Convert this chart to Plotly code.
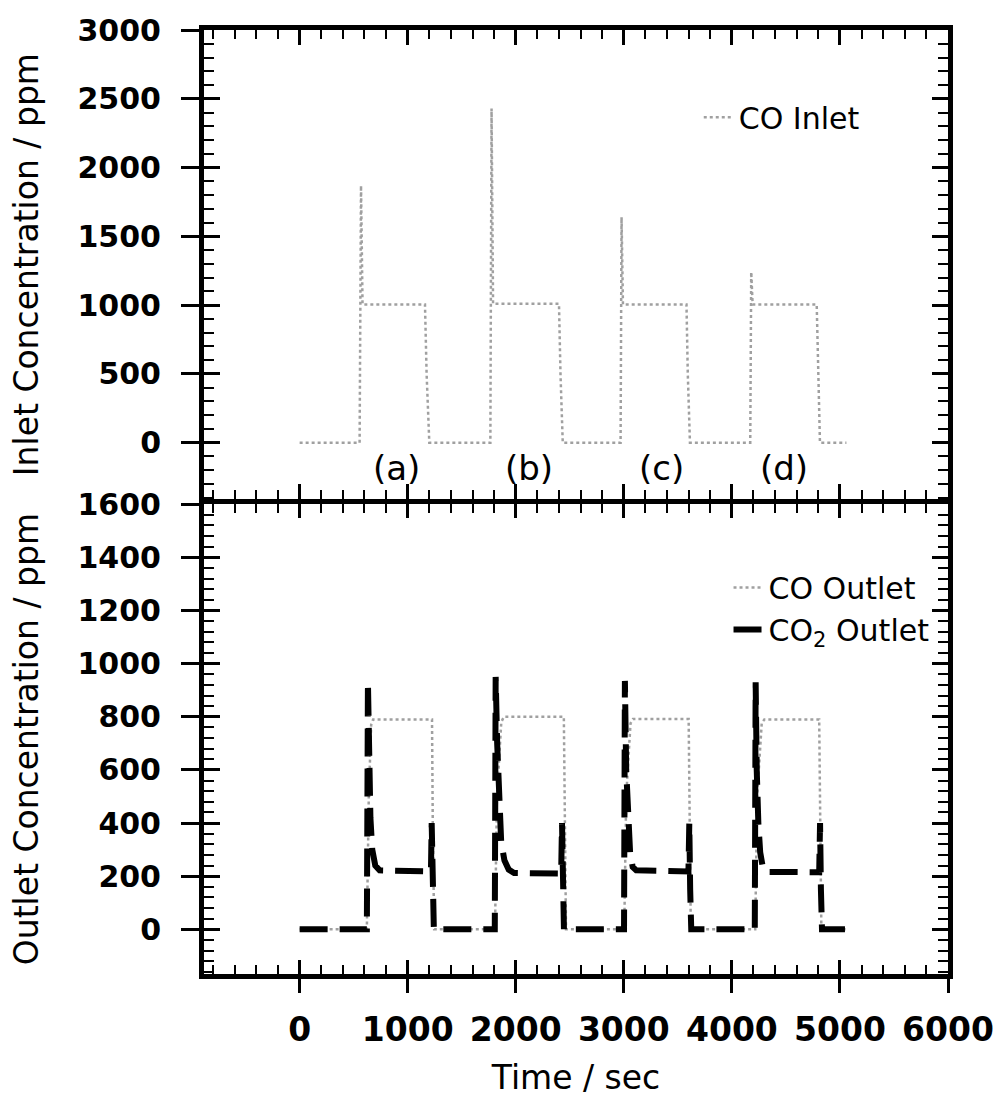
import plotly.graph_objects as go

# ---------------- data ----------------
# Upper panel: CO inlet concentration (ppm) vs time (s)
inlet_time = [0, 555, 568, 582, 1160, 1175, 1200,
              1765, 1776, 1790, 2400, 2414, 2435,
              2970, 2979, 2992, 3580, 3592, 3612,
              4170, 4179, 4192, 4785, 4797, 4815, 5060]
inlet_co = [0, 0, 1870, 1005, 1005, 500, 0,
            0, 2430, 1010, 1010, 500, 0,
            0, 1640, 1005, 1005, 500, 0,
            0, 1240, 1005, 1005, 500, 0, 0]

# Lower panel: CO outlet concentration (ppm) vs time (s)
co_out_time = [0, 622, 640, 662, 680, 1225, 1232, 1245,
               1808, 1826, 1866, 1890, 2445, 2452, 2465,
               3004, 3022, 3062, 3085, 3600, 3607, 3620,
               4216, 4234, 4276, 4300, 4808, 4815, 4828, 5060]
co_out = [0, 0, 500, 770, 790, 790, 400, 0,
          0, 500, 780, 800, 800, 400, 0,
          0, 500, 775, 792, 792, 400, 0,
          0, 500, 775, 790, 790, 400, 0, 0]

# Lower panel: CO2 outlet concentration (ppm) vs time (s)
co2_out_time = [0, 622, 632, 642, 655, 672, 700, 740, 1215, 1222, 1230, 1242,
                1806, 1814, 1828, 1845, 1865, 1895, 1935, 1985, 2420, 2428, 2436, 2446,
                3002, 3010, 3022, 3038, 3058, 3082, 3115, 3598, 3606, 3614, 3624,
                4212, 4220, 4230, 4245, 4262, 4287, 4320, 4808, 4816, 4824, 4834, 5060]
co2_out = [0, 0, 930, 620, 420, 300, 240, 222, 218, 400, 150, 0,
           0, 950, 700, 460, 330, 260, 225, 212, 210, 400, 150, 0,
           0, 935, 600, 400, 290, 235, 222, 218, 400, 150, 0,
           0, 930, 600, 400, 290, 232, 216, 215, 400, 150, 0, 0]

# Experiment labels in the upper panel
cycle_labels = ["(a)", "(b)", "(c)", "(d)"]
cycle_label_time = [893, 2120, 3350, 4480]
cycle_label_level = [-185, -185, -185, -185]

# Axis ranges
time_range = [-885, 6000]
inlet_range = [-411, 3000]
outlet_range = [-168, 1600]

# ---------------- styling ----------------
FONT = "DejaVu Sans"
tick_font = dict(family=FONT, size=30, color="black", weight="bold")
xtick_font = dict(family=FONT, size=33, color="black", weight="bold")
title_font = dict(family=FONT, size=33, color="black")

fig = go.Figure()

fig.add_trace(go.Scatter(
    x=inlet_time, y=inlet_co, mode="lines", name="CO Inlet",
    line=dict(color="#a0a0a0", width=2.5, dash="dot"),
    xaxis="x", yaxis="y", legend="legend"))

fig.add_trace(go.Scatter(
    x=co_out_time, y=co_out, mode="lines", name="CO Outlet",
    line=dict(color="#a0a0a0", width=2.5, dash="dot"),
    xaxis="x2", yaxis="y2", legend="legend2"))

fig.add_trace(go.Scatter(
    x=co2_out_time, y=co2_out, mode="lines", name="CO<sub>2</sub> Outlet",
    line=dict(color="black", width=6, dash="28px,12px"),
    xaxis="x2", yaxis="y2", legend="legend2"))

# empty traces so the overlay axes (outer ticks + labels) get drawn
for xa, ya in [("x", "y3"), ("x2", "y4"), ("x3", "y2")]:
    fig.add_trace(go.Scatter(x=[], y=[], mode="lines", showlegend=False,
                             hoverinfo="skip", xaxis=xa, yaxis=ya))

annotations = []
for lab, t, v in zip(cycle_labels, cycle_label_time, cycle_label_level):
    annotations.append(dict(x=t, y=v, xref="x", yref="y", text=lab,
                            showarrow=False,
                            font=dict(family=FONT, size=34, color="black")))

base = dict(showline=True, linewidth=5, linecolor="black", showgrid=False,
            zeroline=False, tickcolor="black", tickwidth=3, automargin=False)


def minor_in(d, l):
    return dict(dtick=d, ticks="inside", ticklen=l, tickwidth=2,
                tickcolor="black", showgrid=False)


H = 944.0
upper_bottom = (974 - 499.2) / H
lower_top = (974 - 504.2) / H

layout = dict(
    width=1000, height=1103,
    margin=dict(l=204, r=52, t=30, b=129, autoexpand=False),
    paper_bgcolor="white", plot_bgcolor="white",
    showlegend=True,
    annotations=annotations,
    # upper panel axes
    xaxis=dict(base, domain=[0, 1], anchor="y", range=time_range,
               tick0=0, dtick=1000, ticks="inside", ticklen=15,
               minor=minor_in(200, 9), mirror="ticks", showticklabels=False),
    yaxis=dict(base, domain=[upper_bottom, 1], anchor="x", range=inlet_range,
               tick0=0, dtick=500, ticks="inside", ticklen=16,
               minor=minor_in(100, 10), mirror="ticks", showticklabels=False),
    yaxis3=dict(base, overlaying="y", anchor="x", side="left",
                range=inlet_range, tick0=0, dtick=500, ticks="outside",
                ticklen=18, tickfont=tick_font, ticklabelstandoff=14,
                title=dict(text="Inlet Concentration / ppm", font=title_font,
                           standoff=30)),
    # lower panel axes
    xaxis2=dict(base, domain=[0, 1], anchor="y2", range=time_range,
                tick0=0, dtick=1000, ticks="inside", ticklen=14,
                minor=minor_in(200, 9), mirror="ticks", showticklabels=False),
    xaxis3=dict(base, overlaying="x2", anchor="y2", side="bottom",
                range=time_range, tick0=0, dtick=1000, ticks="outside",
                ticklen=14, tickfont=xtick_font, ticklabelstandoff=8,
                title=dict(text="Time / sec", font=title_font, standoff=20)),
    yaxis2=dict(base, domain=[0, lower_top], anchor="x2", range=outlet_range,
                tick0=0, dtick=200, ticks="inside", ticklen=16,
                minor=minor_in(40, 10), mirror="ticks", showticklabels=False),
    yaxis4=dict(base, overlaying="y2", anchor="x2", side="left",
                range=outlet_range, tick0=0, dtick=200, ticks="outside",
                ticklen=18, tickfont=tick_font, ticklabelstandoff=14,
                title=dict(text="Outlet Concentration / ppm", font=title_font,
                           standoff=30)),
    legend=dict(x=0.665, y=0.935, xanchor="left", yanchor="top",
                bgcolor="rgba(0,0,0,0)", borderwidth=0,
                font=dict(family=FONT, size=30, color="black")),
    legend2=dict(x=0.705, y=0.437, xanchor="left", yanchor="top",
                 bgcolor="rgba(0,0,0,0)", borderwidth=0,
                 font=dict(family=FONT, size=30, color="black")),
)

fig.update_layout(**layout)
fig.write_html("out.html")
